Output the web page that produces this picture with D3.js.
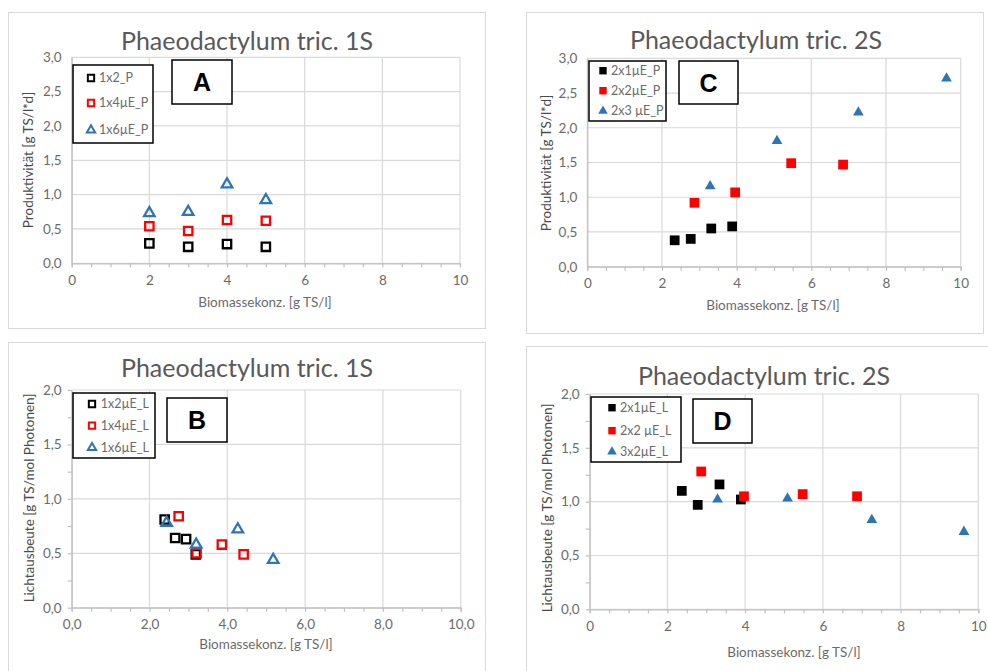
<!DOCTYPE html>
<html>
<head>
<meta charset="utf-8">
<script src="https://cdn.jsdelivr.net/npm/d3@7"></script>
<style>
  body { margin: 0; background: #fff; }
  text { font-family: Lato, "Open Sans", sans-serif; }
</style>
</head>
<body>
<div id="chart"></div>
<script>
// ---- data ----
var seriesNamesA = ["1x2_P", "1x4µE_P", "1x6µE_P"];
var seriesNamesB = ["1x2µE_L", "1x4µE_L", "1x6µE_L"];
var seriesNamesC = ["2x1µE_P", "2x2µE_P", "2x3 µE_P"];
var seriesNamesD = ["2x1µE_L", "2x2 µE_L", "3x2µE_L"];

var xA = [2, 3, 4, 5];
var yA1 = [0.29, 0.24, 0.28, 0.24];
var yA2 = [0.54, 0.47, 0.63, 0.62];
var yA3 = [0.73, 0.75, 1.15, 0.92];

var xB1 = [2.39, 2.66, 2.94, 3.19];
var yB1 = [0.81, 0.64, 0.63, 0.49];
var xB2 = [2.75, 3.21, 3.86, 4.42];
var yB2 = [0.84, 0.50, 0.58, 0.49];
var xB3 = [2.44, 3.20, 4.27, 5.18];
var yB3 = [0.78, 0.58, 0.72, 0.44];

var xC1 = [2.34, 2.77, 3.32, 3.88];
var yC1 = [0.38, 0.40, 0.55, 0.58];
var xC2 = [2.87, 3.96, 5.46, 6.85];
var yC2 = [0.92, 1.07, 1.49, 1.47];
var xC3 = [3.29, 5.08, 7.26, 9.62];
var yC3 = [1.16, 1.81, 2.22, 2.71];

var xD1 = [2.37, 2.78, 3.34, 3.89];
var yD1 = [1.10, 0.97, 1.16, 1.02];
var xD2 = [2.87, 3.97, 5.48, 6.88];
var yD2 = [1.28, 1.05, 1.07, 1.05];
var xD3 = [3.29, 5.09, 7.26, 9.63];
var yD3 = [1.02, 1.03, 0.83, 0.72];

var colors = ["#000000", "#ff0000", "#2e75b6"];
var gray = "#6b6b6b";

var de = d3.formatLocale({decimal: ",", thousands: ".", grouping: [3], currency: ["", "€"]});
var fmt1 = de.format(".1f");
var fmt0 = de.format("d");

var svg = d3.select("#chart").append("svg")
  .attr("width", 988).attr("height", 671);

function zip(xs, ys) { return xs.map(function(x, i) { return [x, ys[i]]; }); }

var panels = [
  { frame: [8, 12, 477, 316], px: [71.7, 460], py: [263.3, 57.3], ymax: 3, xfmt: fmt0,
    title: "Phaeodactylum tric. 1S", tx: 247, ty: 50, letter: "A", lbox: [172, 60, 60, 44],
    legend: [73, 65, 80, 78], ly: [78, 103, 130], lmx: 91, ltx: 99,
    ylab: "Produktivität [g TS/l*d]", ylx: 28, yly: 160, xlx: 265, xly: 307,
    names: seriesNamesA, filled: false, yminor: false,
    series: [zip(xA, yA1), zip(xA, yA2), zip(xA, yA3)] },
  { frame: [526, 12, 457, 321], px: [587.3, 960.7], py: [266.7, 58.3], ymax: 3, xfmt: fmt0,
    title: "Phaeodactylum tric. 2S", tx: 756, ty: 49, letter: "C", lbox: [679, 61, 59, 43],
    legend: [589, 61, 77, 60], ly: [70.7, 90.7, 111], lmx: 603, ltx: 611,
    ylab: "Produktivität [g TS/l*d]", ylx: 546, yly: 163, xlx: 773, xly: 310,
    names: seriesNamesC, filled: true, yminor: false,
    series: [zip(xC1, yC1), zip(xC2, yC2), zip(xC3, yC3)] },
  { frame: [8, 342, 477, 335], px: [71.7, 460.7], py: [607.7, 390], ymax: 2, xfmt: fmt1,
    title: "Phaeodactylum tric. 1S", tx: 247, ty: 377, letter: "B", lbox: [167, 398, 60, 44],
    legend: [73, 393, 82, 65], ly: [404, 425.7, 447.7], lmx: 92, ltx: 100.7,
    ylab: "Lichtausbeute [g TS/mol Photonen]", ylx: 29, yly: 498, xlx: 266, xly: 649,
    names: seriesNamesB, filled: false, yminor: true,
    series: [zip(xB1, yB1), zip(xB2, yB2), zip(xB3, yB3)] },
  { frame: [526, 346, 470, 335], px: [589.7, 978.3], py: [609.3, 394], ymax: 2, xfmt: fmt0,
    title: "Phaeodactylum tric. 2S", tx: 764, ty: 385, letter: "D", lbox: [693, 399, 59, 44],
    legend: [591, 397, 90, 65], ly: [407.7, 430.7, 451.7], lmx: 612, ltx: 620,
    ylab: "Lichtausbeute [g TS/mol Photonen]", ylx: 547, yly: 508, xlx: 794, xly: 657,
    names: seriesNamesD, filled: true, yminor: true,
    series: [zip(xD1, yD1), zip(xD2, yD2), zip(xD3, yD3)] }
];

panels.forEach(function(p) {
  var g = svg.append("g");
  var x = d3.scaleLinear().domain([0, 10]).range(p.px);
  var y = d3.scaleLinear().domain([0, p.ymax]).range(p.py);

  g.append("rect").attr("x", p.frame[0] + 0.5).attr("y", p.frame[1] + 0.5)
    .attr("width", p.frame[2]).attr("height", p.frame[3])
    .attr("fill", "#fff").attr("stroke", "#d9d9d9");

  // gridlines
  g.selectAll(".gy").data(d3.range(0, p.ymax + 0.01, 0.5)).enter().append("line")
    .attr("x1", p.px[0]).attr("x2", p.px[1])
    .attr("y1", function(d) { return y(d); }).attr("y2", function(d) { return y(d); })
    .attr("stroke", "#d9d9d9").attr("stroke-width", 1.2);
  g.selectAll(".gx").data(d3.range(0, 10.01, 2)).enter().append("line")
    .attr("y1", p.py[0]).attr("y2", p.py[1])
    .attr("x1", function(d) { return x(d); }).attr("x2", function(d) { return x(d); })
    .attr("stroke", "#d9d9d9").attr("stroke-width", 1.2);

  // x axis
  var xa = g.append("g").attr("transform", "translate(0," + p.py[0] + ")")
    .call(d3.axisBottom(x).tickValues(d3.range(0, 10.01, 0.5)).tickSize(4).tickFormat(""));
  xa.selectAll("line, path").attr("stroke", "#bfbfbf").attr("stroke-width", 1.2);
  g.append("g").attr("transform", "translate(0," + p.py[0] + ")")
    .call(d3.axisBottom(x).tickValues(d3.range(0, 10.01, 2)).tickSize(0).tickPadding(12).tickFormat(p.xfmt))
    .call(function(s) { s.select(".domain").remove(); })
    .selectAll("text").attr("fill", gray).style("font-size", "13.5px").style("font-family", "Lato, sans-serif");

  // y axis
  var ya = g.append("g").attr("transform", "translate(" + p.px[0] + ",0)")
    .call(d3.axisLeft(y).tickValues(p.yminor ? d3.range(0, p.ymax + 0.01, 0.25) : [])
      .tickSize(4).tickFormat("").tickSizeOuter(0));
  ya.selectAll("line, path").attr("stroke", "#bfbfbf").attr("stroke-width", 1.2);
  g.append("g").attr("transform", "translate(" + p.px[0] + ",0)")
    .call(d3.axisLeft(y).tickValues(d3.range(0, p.ymax + 0.01, 0.5)).tickSize(0).tickPadding(10).tickFormat(fmt1))
    .call(function(s) { s.select(".domain").remove(); })
    .selectAll("text").attr("fill", gray).style("font-size", "13.5px").style("font-family", "Lato, sans-serif");

  // titles and axis labels
  g.append("text").attr("x", p.tx).attr("y", p.ty).attr("text-anchor", "middle")
    .attr("fill", "#595959").style("font-size", "25px").text(p.title);
  g.append("text").attr("x", p.xlx).attr("y", p.xly).attr("text-anchor", "middle")
    .attr("fill", gray).style("font-size", "13.5px").text("Biomassekonz. [g TS/l]");
  g.append("text").attr("transform", "translate(" + p.ylx + "," + p.yly + ") rotate(-90)")
    .attr("text-anchor", "middle").attr("dy", "0.35em")
    .attr("fill", "#4a4a4a").style("font-size", "13.5px").text(p.ylab);

  // markers
  p.series.forEach(function(pts, i) {
    var sym = d3.symbol().type(i === 2 ? d3.symbolTriangle : d3.symbolSquare)
      .size(p.filled ? (i === 2 ? 50 : 95) : (i === 2 ? 48 : 70));
    g.selectAll(".m" + i).data(pts).enter().append("path")
      .attr("transform", function(d) { return "translate(" + x(d[0]) + "," + y(d[1]) + ")"; })
      .attr("d", sym)
      .attr("fill", p.filled ? colors[i] : "none")
      .attr("stroke", p.filled ? "none" : colors[i])
      .attr("stroke-width", 2.3);
  });

  // legend
  g.append("rect").attr("x", p.legend[0]).attr("y", p.legend[1])
    .attr("width", p.legend[2]).attr("height", p.legend[3])
    .attr("fill", "#fff").attr("stroke", "#000").attr("stroke-width", 1.5);
  p.names.forEach(function(n, i) {
    var sym = d3.symbol().type(i === 2 ? d3.symbolTriangle : d3.symbolSquare)
      .size(p.filled ? (i === 2 ? 40 : 55) : (i === 2 ? 30 : 40));
    g.append("path").attr("transform", "translate(" + p.lmx + "," + p.ly[i] + ")")
      .attr("d", sym)
      .attr("fill", p.filled ? colors[i] : "none")
      .attr("stroke", p.filled ? "none" : colors[i]).attr("stroke-width", 2);
    g.append("text").attr("x", p.ltx).attr("y", p.ly[i]).attr("dy", "0.35em")
      .attr("fill", gray).style("font-size", "12.5px").text(n);
  });

  // panel letter box
  g.append("rect").attr("x", p.lbox[0]).attr("y", p.lbox[1])
    .attr("width", p.lbox[2]).attr("height", p.lbox[3])
    .attr("fill", "#fff").attr("stroke", "#000").attr("stroke-width", 1.5);
  g.append("text").attr("x", p.lbox[0] + p.lbox[2] / 2).attr("y", p.lbox[1] + p.lbox[3] / 2)
    .attr("dy", "0.36em").attr("text-anchor", "middle")
    .style("font-family", "'Liberation Sans', Arial, sans-serif").style("font-weight", "bold")
    .style("font-size", "25px").attr("fill", "#000").text(p.letter);
});
</script>
</body>
</html>
